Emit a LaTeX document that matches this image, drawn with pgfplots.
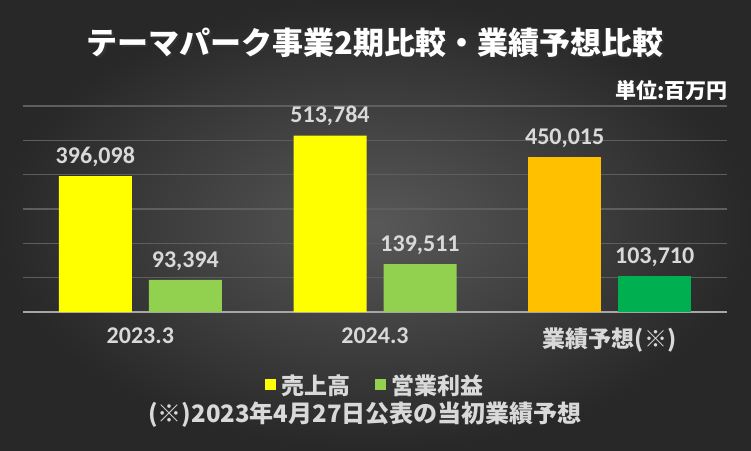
\documentclass[border=0pt]{standalone}
\usepackage{fontspec}
\setmainfont{Noto Sans CJK JP}
\newfontfamily\numfont{Carlito}
\usepackage{pgfplots}
\pgfplotsset{compat=1.18}
\definecolor{bgin}{HTML}{585858}
\definecolor{bgout}{HTML}{282828}
\definecolor{lbl}{HTML}{D9D9D9}
\definecolor{gridc}{HTML}{5E5E5E}
\definecolor{base}{HTML}{A6A6A6}
\definecolor{ylw}{HTML}{FFFF00}
\definecolor{grn}{HTML}{92D050}
\definecolor{org}{HTML}{FFC000}
\definecolor{dgrn}{HTML}{00B050}
\begin{document}
\begin{tikzpicture}
\shade[inner color=bgin, outer color=bgout] (0pt,0pt) rectangle (751pt,450pt);
\useasboundingbox (0pt,0pt) rectangle (751pt,450pt);
\node[text=black!80, font=\bfseries\fontsize{31}{31}\selectfont] at (377pt,405.5pt) {テーマパーク事業2期比較・業績予想比較};
\node[text=white, font=\bfseries\fontsize{31}{31}\selectfont] at (375pt,407.5pt) {テーマパーク事業2期比較・業績予想比較};
\node[anchor=east, text=white, font=\bfseries\fontsize{21}{21}\selectfont] at (731pt,360pt) {単位:百万円};
\begin{axis}[
  at={(23pt,138pt)}, anchor=south west,
  width=704pt, height=206pt, scale only axis,
  xmin=-0.5, xmax=2.5, ymin=0, ymax=600000,
  scaled y ticks=false,
  axis line style={draw=none}, major tick length=0pt,
  ytick={100000,200000,300000,400000,500000,600000}, yticklabels={},
  ymajorgrids, grid style={color=gridc, line width=1.5pt},
  extra y ticks={0}, extra y tick labels={},
  extra y tick style={grid style={color=base, line width=1.8pt}},
  xtick={0,1,2},
  xticklabels={{\mbox{\numfont\bfseries\fontsize{24}{24}\selectfont 2023.3}},{\mbox{\numfont\bfseries\fontsize{24}{24}\selectfont 2024.3}},{\mbox{業績予想(※)}}},
  xticklabel style={text=lbl, font=\bfseries\fontsize{23}{23}\selectfont, yshift=-12pt},
  ybar, bar width=73pt,
  nodes near coords,
  nodes near coords style={text=lbl, font=\numfont\bfseries\fontsize{24}{24}\selectfont, anchor=south, yshift=6pt},
  /pgf/number format/fixed, /pgf/number format/precision=0,
  /pgf/number format/1000 sep={,}, /pgf/number format/assume math mode=true,
  legend style={at={(0.5,-0.355)}, anchor=center, draw=none, fill=none, text=lbl,
    font=\bfseries\fontsize{23}{23}\selectfont, legend columns=2,
    /tikz/every even column/.append style={column sep=22pt}},
  legend image code/.code={\fill[#1,draw=none] (0pt,-5pt) rectangle (11pt,6pt); \path (15pt,0pt);},
]
\addplot[fill=ylw, draw=none, bar shift=-45pt] coordinates {(0,396098) (1,513784)};
\addlegendentry{売上高}
\addplot[fill=grn, draw=none, bar shift=45pt] coordinates {(0,93394) (1,139511)};
\addlegendentry{営業利益}
\addplot[fill=org, draw=none, bar shift=-45pt, forget plot] coordinates {(2,450015)};
\addplot[fill=dgrn, draw=none, bar shift=45pt, forget plot] coordinates {(2,103710)};
\end{axis}
\node[text=lbl, font=\bfseries\fontsize{24}{24}\selectfont] at (365pt,35pt) {(※)2023年4月27日公表の当初業績予想};
\end{tikzpicture}
\end{document}
